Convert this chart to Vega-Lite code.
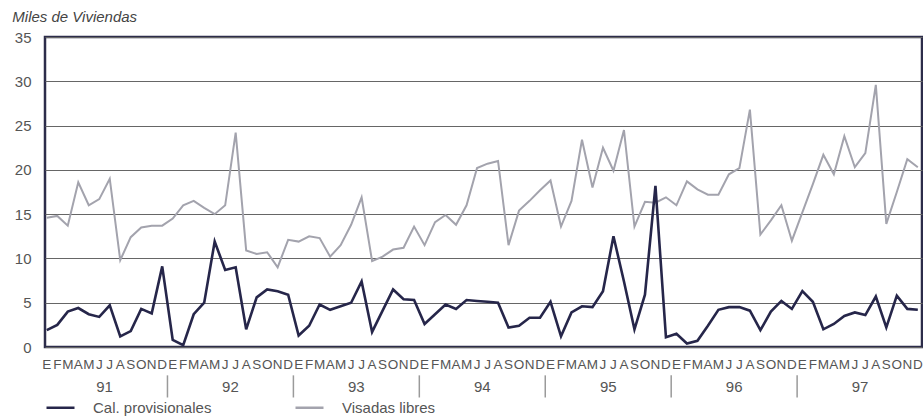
{
  "$schema": "https://vega.github.io/schema/vega-lite/v6.json",
  "width": 877,
  "height": 310,
  "autosize": {"type": "none"},
  "padding": {"left": 45, "top": 37, "right": 1, "bottom": 70},
  "background": "white",
  "title": {"text": "Miles de Viviendas", "anchor": "start", "fontSize": 15, "fontStyle": "italic", "fontWeight": "normal", "color": "#444", "font": "Liberation Sans", "offset": 5, "dx": -2},
  "config": {
    "font": "Liberation Sans",
    "view": {"stroke": "#2c2c4a", "strokeWidth": 2.5},
    "axis": {"labelFont": "Liberation Sans", "labelColor": "#555"}
  },
  "datasets": {
    "vis": [
      {"m":0,"mes":"E","v":14.6},{"m":1,"mes":"F","v":14.8},{"m":2,"mes":"M","v":13.7},{"m":3,"mes":"A","v":18.6},{"m":4,"mes":"M","v":16.0},{"m":5,"mes":"J","v":16.7},{"m":6,"mes":"J","v":19.0},{"m":7,"mes":"A","v":9.8},{"m":8,"mes":"S","v":12.4},{"m":9,"mes":"O","v":13.5},{"m":10,"mes":"N","v":13.7},{"m":11,"mes":"D","v":13.7},
      {"m":12,"mes":"E","v":14.5},{"m":13,"mes":"F","v":16.0},{"m":14,"mes":"M","v":16.5},{"m":15,"mes":"A","v":15.7},{"m":16,"mes":"M","v":15.0},{"m":17,"mes":"J","v":16.0},{"m":18,"mes":"J","v":24.2},{"m":19,"mes":"A","v":10.9},{"m":20,"mes":"S","v":10.5},{"m":21,"mes":"O","v":10.7},{"m":22,"mes":"N","v":9.0},{"m":23,"mes":"D","v":12.1},
      {"m":24,"mes":"E","v":11.9},{"m":25,"mes":"F","v":12.5},{"m":26,"mes":"M","v":12.3},{"m":27,"mes":"A","v":10.2},{"m":28,"mes":"M","v":11.5},{"m":29,"mes":"J","v":13.8},{"m":30,"mes":"J","v":16.9},{"m":31,"mes":"A","v":9.7},{"m":32,"mes":"S","v":10.2},{"m":33,"mes":"O","v":11.0},{"m":34,"mes":"N","v":11.2},{"m":35,"mes":"D","v":13.6},
      {"m":36,"mes":"E","v":11.5},{"m":37,"mes":"F","v":14.1},{"m":38,"mes":"M","v":14.9},{"m":39,"mes":"A","v":13.8},{"m":40,"mes":"M","v":16.0},{"m":41,"mes":"J","v":20.2},{"m":42,"mes":"J","v":20.7},{"m":43,"mes":"A","v":21.0},{"m":44,"mes":"S","v":11.5},{"m":45,"mes":"O","v":15.4},{"m":46,"mes":"N","v":16.5},{"m":47,"mes":"D","v":17.7},
      {"m":48,"mes":"E","v":18.8},{"m":49,"mes":"F","v":13.6},{"m":50,"mes":"M","v":16.5},{"m":51,"mes":"A","v":23.4},{"m":52,"mes":"M","v":18.0},{"m":53,"mes":"J","v":22.5},{"m":54,"mes":"J","v":19.9},{"m":55,"mes":"A","v":24.5},{"m":56,"mes":"S","v":13.6},{"m":57,"mes":"O","v":16.4},{"m":58,"mes":"N","v":16.3},{"m":59,"mes":"D","v":16.9},
      {"m":60,"mes":"E","v":16.0},{"m":61,"mes":"F","v":18.7},{"m":62,"mes":"M","v":17.8},{"m":63,"mes":"A","v":17.2},{"m":64,"mes":"M","v":17.2},{"m":65,"mes":"J","v":19.5},{"m":66,"mes":"J","v":20.2},{"m":67,"mes":"A","v":26.8},{"m":68,"mes":"S","v":12.7},{"m":69,"mes":"O","v":14.3},{"m":70,"mes":"N","v":16.0},{"m":71,"mes":"D","v":12.0},
      {"m":72,"mes":"E","v":15.2},{"m":73,"mes":"F","v":18.4},{"m":74,"mes":"M","v":21.7},{"m":75,"mes":"A","v":19.5},{"m":76,"mes":"M","v":23.8},{"m":77,"mes":"J","v":20.3},{"m":78,"mes":"J","v":21.9},{"m":79,"mes":"A","v":29.6},{"m":80,"mes":"S","v":13.9},{"m":81,"mes":"O","v":17.5},{"m":82,"mes":"N","v":21.2},{"m":83,"mes":"D","v":20.3}
    ],
    "cal": [
      {"m":0,"v":1.9},{"m":1,"v":2.5},{"m":2,"v":4.0},{"m":3,"v":4.4},{"m":4,"v":3.7},{"m":5,"v":3.4},{"m":6,"v":4.7},{"m":7,"v":1.2},{"m":8,"v":1.8},{"m":9,"v":4.3},{"m":10,"v":3.8},{"m":11,"v":9.1},
      {"m":12,"v":0.8},{"m":13,"v":0.2},{"m":14,"v":3.7},{"m":15,"v":5.0},{"m":16,"v":11.9},{"m":17,"v":8.7},{"m":18,"v":9.0},{"m":19,"v":2.0},{"m":20,"v":5.6},{"m":21,"v":6.5},{"m":22,"v":6.3},{"m":23,"v":5.9},
      {"m":24,"v":1.3},{"m":25,"v":2.4},{"m":26,"v":4.8},{"m":27,"v":4.2},{"m":28,"v":4.6},{"m":29,"v":5.0},{"m":30,"v":7.4},{"m":31,"v":1.7},{"m":32,"v":4.1},{"m":33,"v":6.5},{"m":34,"v":5.4},{"m":35,"v":5.3},
      {"m":36,"v":2.6},{"m":37,"v":3.7},{"m":38,"v":4.8},{"m":39,"v":4.3},{"m":40,"v":5.3},{"m":41,"v":5.2},{"m":42,"v":5.1},{"m":43,"v":5.0},{"m":44,"v":2.2},{"m":45,"v":2.4},{"m":46,"v":3.3},{"m":47,"v":3.3},
      {"m":48,"v":5.1},{"m":49,"v":1.2},{"m":50,"v":3.9},{"m":51,"v":4.6},{"m":52,"v":4.5},{"m":53,"v":6.3},{"m":54,"v":12.5},{"m":55,"v":7.4},{"m":56,"v":2.0},{"m":57,"v":5.9},{"m":58,"v":18.2},{"m":59,"v":1.1},
      {"m":60,"v":1.5},{"m":61,"v":0.4},{"m":62,"v":0.7},{"m":63,"v":2.4},{"m":64,"v":4.2},{"m":65,"v":4.5},{"m":66,"v":4.5},{"m":67,"v":4.1},{"m":68,"v":1.9},{"m":69,"v":4.0},{"m":70,"v":5.2},{"m":71,"v":4.3},
      {"m":72,"v":6.3},{"m":73,"v":5.1},{"m":74,"v":2.0},{"m":75,"v":2.6},{"m":76,"v":3.5},{"m":77,"v":3.9},{"m":78,"v":3.6},{"m":79,"v":5.7},{"m":80,"v":2.2},{"m":81,"v":5.8},{"m":82,"v":4.3},{"m":83,"v":4.2}
    ],
    "years": [
      {"year":"91","mid":5.5},{"year":"92","mid":17.5},{"year":"93","mid":29.5},{"year":"94","mid":41.5},{"year":"95","mid":53.5},{"year":"96","mid":65.5},{"year":"97","mid":77.5}
    ],
    "bounds": [
      {"b":11.5},{"b":23.5},{"b":35.5},{"b":47.5},{"b":59.5},{"b":71.5}
    ]
  },
  "layer": [
    {
      "data": {"name": "vis"},
      "mark": {"type": "line", "strokeWidth": 2, "clip": false},
      "encoding": {
        "x": {"field": "m", "type": "quantitative", "title": null, "axis": null,
              "scale": {"domain": [-0.17, 83.4], "nice": false, "zero": false}},
        "y": {"field": "v", "type": "quantitative", "title": null,
              "scale": {"domain": [0, 35], "nice": false, "zero": true},
              "axis": {"values": [0,5,10,15,20,25,30,35], "grid": true, "gridColor": "#666", "gridWidth": 1,
                       "ticks": false, "domain": false, "labelPadding": 14, "labelFontSize": 15, "labelColor": "#555"}},
        "color": {"datum": "Visadas libres", "type": "nominal",
                  "scale": {"domain": ["Cal. provisionales", "Visadas libres"], "range": ["#26264a", "#a3a3ad"]},
                  "legend": {"orient": "none", "legendX": 0, "legendY": 355, "direction": "horizontal", "title": null,
                             "symbolType": "stroke", "symbolSize": 784, "symbolStrokeWidth": 2.5,
                             "labelFontSize": 15, "labelColor": "#555", "labelOffset": 17, "columnPadding": 78, "labelFont": "Liberation Sans"}}
      }
    },
    {
      "data": {"name": "cal"},
      "mark": {"type": "line", "strokeWidth": 2.6, "clip": false},
      "encoding": {
        "x": {"field": "m", "type": "quantitative", "title": null, "axis": null},
        "y": {"field": "v", "type": "quantitative", "title": null},
        "color": {"datum": "Cal. provisionales", "type": "nominal"}
      }
    },
    {
      "data": {"name": "vis"},
      "mark": {"type": "text", "fontSize": 13.5, "color": "#555", "baseline": "top", "align": "center", "font": "Liberation Sans"},
      "encoding": {
        "x": {"field": "m", "type": "quantitative", "title": null, "axis": null},
        "y": {"datum": -1.2, "title": null},
        "text": {"field": "mes"}
      }
    },
    {
      "data": {"name": "bounds"},
      "mark": {"type": "rule", "color": "#9a9a9a", "strokeWidth": 1.5},
      "encoding": {
        "x": {"field": "b", "type": "quantitative", "title": null, "axis": null},
        "y": {"datum": -3.2, "title": null},
        "y2": {"datum": -5.7}
      }
    },
    {
      "data": {"name": "years"},
      "mark": {"type": "text", "fontSize": 15, "color": "#555", "baseline": "middle", "align": "center", "font": "Liberation Sans"},
      "encoding": {
        "x": {"field": "mid", "type": "quantitative", "title": null, "axis": null},
        "y": {"datum": -4.5, "title": null},
        "text": {"field": "year"}
      }
    }
  ]
}
